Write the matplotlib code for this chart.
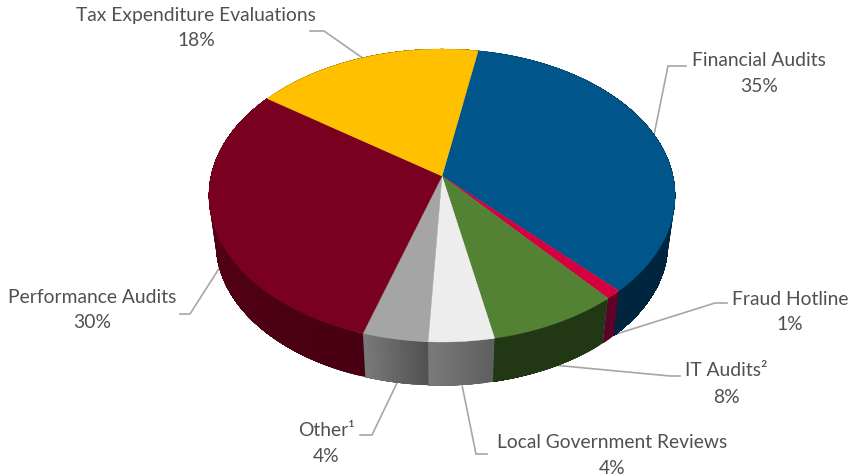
import numpy as np
import matplotlib
matplotlib.use("Agg")
import matplotlib.pyplot as plt
from matplotlib.colors import to_rgb

categories = ["Financial Audits", "Fraud Hotline", "IT Audits²", "Local Government Reviews",
              "Other¹", "Performance Audits", "Tax Expenditure Evaluations"]
values = [35, 1, 8, 4, 4, 30, 18]

top_colors = ["#00568A", "#D5003F", "#548235", "#EDEDED", "#A5A5A5", "#7A0022", "#FFC000"]
# side colour at the start and the end of each slice (going clockwise)
side_start = ["#00253F", "#5F0028", "#223814", "#5E5E5E", "#505050", "#480012", "#6E5300"]
side_end = ["#00253F", "#5F0028", "#223814", "#7A7A7A", "#7A7A7A", "#5C0019", "#6E5300"]

# label centre (x, y of name, y of percent), in pixels of the picture
label_pos = [(759, 61, 86), (790, 300, 325), (726, 371, 398), (612, 443, 469),
             (326, 431, 457), (92, 298, 323), (196, 16, 41)]
leaders = [
    [(686, 67), (668, 67), (654, 136)],
    [(727, 304), (715, 304), (610, 337)],
    [(680, 377), (670, 377), (553, 366)],
    [(487, 455), (476, 455), (462, 386)],
    [(360, 436), (372, 436), (397, 384)],
    [(180, 315), (190, 315), (220, 268)],
    [(310, 32), (324, 32), (364, 60)],
]

START = 10.2
CX, CY = 442, 177
A, B, K = 231, 143.9, 0.133   # perspective of the disc
DEPTH, BASE_SCALE = 48.5, 0.97


def project(theta, scale=1.0, dy=0.0):
    # theta in degrees, clockwise from the top of the pie
    t = np.radians(theta)
    X, Y = np.sin(t), -np.cos(t)
    d = 1 - K * Y
    return CX + scale * A * X / d, CY + dy + scale * B * Y / d


fig = plt.figure(figsize=(8.54, 4.77), dpi=100)
ax = fig.add_axes([0, 0, 1, 1])
ax.set_xlim(0, 854)
ax.set_ylim(477, 0)
ax.axis("off")

for pts in leaders:
    xs, ys = zip(*pts)
    ax.plot(xs, ys, color="#A6A6A6", lw=1.2, zorder=1, solid_joinstyle="round")

edges = START + np.cumsum([0] + values) * 3.6

# sides first, each strip runs to the end of the slice so no seams show
for i in range(len(values)):
    a0, a1 = edges[i], edges[i + 1]
    n = max(int(a1 - a0), 2)
    steps = np.linspace(a0, a1, n + 1)
    c0, c1 = np.array(to_rgb(side_start[i])), np.array(to_rgb(side_end[i]))
    for j in range(n):
        th = steps[j:]
        tx, ty = project(th)
        bx, by = project(th, BASE_SCALE, DEPTH)
        col = c0 + (c1 - c0) * (j + 0.5) / n
        ax.fill(np.r_[tx, bx[::-1]], np.r_[ty, by[::-1]], color=col, lw=0, zorder=2)

# top of the pie
for i in range(len(values)):
    th = np.linspace(edges[i], edges[i + 1], 200)
    x, y = project(th)
    ax.fill(np.r_[CX, x], np.r_[CY, y], color=top_colors[i], lw=0.3, zorder=3)

for name, val, (lx, y1, y2) in zip(categories, values, label_pos):
    ax.text(lx, y1, name, ha="center", va="center", fontsize=13.9,
            family="Lato", color="#505050", zorder=4)
    ax.text(lx, y2, f"{val}%", ha="center", va="center", fontsize=13.9,
            family="Lato", color="#505050", zorder=4)

fig.savefig("out.png", dpi=100, facecolor="white")
